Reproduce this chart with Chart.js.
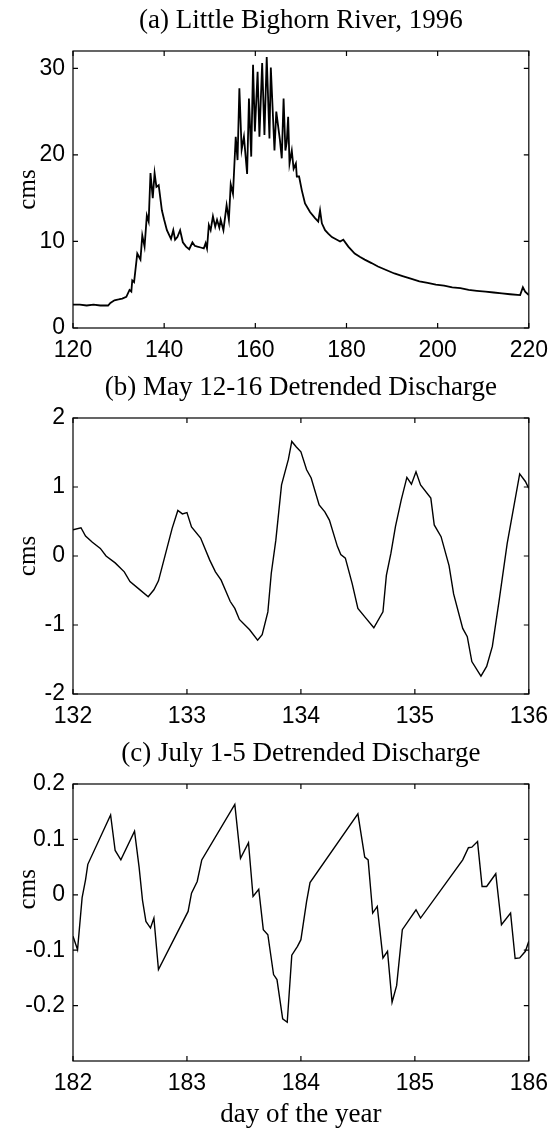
<!DOCTYPE html>
<html>
<head>
<meta charset="utf-8">
<script src="https://cdn.jsdelivr.net/npm/chart.js@4/dist/chart.umd.min.js"></script>
<style>
  html, body { margin: 0; padding: 0; background: #fff; }
  #page { position: relative; width: 557px; height: 1131px; }
  .panel { position: absolute; left: 0; width: 557px; }
</style>
</head>
<body>
<div id="page">
  <div class="panel" style="top:0;height:365px"><canvas id="chartA" width="557" height="365"></canvas></div>
  <div class="panel" style="top:365px;height:365px"><canvas id="chartB" width="557" height="365"></canvas></div>
  <div class="panel" style="top:730px;height:401px"><canvas id="chartC" width="557" height="401"></canvas></div>
</div>
<script>
// (a) Little Bighorn River, 1996 - discharge (cms) by day of year
const dayA = [120, 121.5, 123, 124.5, 126, 127.7, 128.2, 129.1, 130, 130.8, 131.7, 132.4, 132.8, 133.0, 133.4,
  134.1, 134.5, 134.8, 135.2, 135.7, 136.2, 136.6, 137.0, 137.5, 137.9, 138.3, 138.8, 139.5, 140.0, 140.6,
  141.5, 142.0, 142.4, 142.9, 143.5, 144.1, 144.8, 145.5, 146.2, 146.7, 147.3, 148.0, 148.7, 149.1, 149.4,
  149.8, 150.2, 150.7, 151.2, 151.6, 152.1, 152.4, 153.0, 153.7, 154.2, 154.6, 155.1, 155.7, 156.1, 156.5,
  157.0, 157.5, 158.2, 158.6, 159.1, 159.5, 159.9, 160.5, 160.9, 161.5, 162.0, 162.5, 163.1, 163.4, 164.2,
  164.6, 165.4, 165.8, 166.2, 166.6, 166.9, 167.2, 167.5, 168.0, 168.4, 168.9, 169.1, 169.6, 170.2, 170.9,
  172.0, 173.1, 173.8, 174.2, 174.6, 175.3, 176.0, 176.8, 177.9, 178.6, 179.3, 180.4, 181.8, 183.0, 184.0,
  185.5, 186.9, 188.7, 190.5, 192.3, 194.1, 196.0, 197.8, 199.6, 201.4, 203.2, 205.0, 206.8, 208.6, 210.5,
  212.3, 214.1, 215.9, 218.1, 218.7, 219.2, 220];
const flowA = [2.7, 2.7, 2.6, 2.7, 2.6, 2.6, 2.9, 3.2, 3.3, 3.4, 3.6, 4.4, 4.2, 5.5, 5.3,
  8.6, 8.2, 7.9, 10.7, 9.4, 13.0, 12.3, 17.9, 15.0, 17.9, 16.3, 16.5, 13.6, 12.5, 11.3,
  10.3, 11.3, 10.2, 10.5, 11.3, 9.9, 9.4, 9.1, 9.9, 9.5, 9.4, 9.3, 9.2, 9.8, 9.2,
  11.9, 11.3, 12.9, 11.7, 12.5, 11.6, 12.5, 11.3, 14.2, 12.5, 16.6, 15.5, 22.1, 19.4, 27.7,
  20.6, 22.1, 17.8, 26.5, 19.8, 30.4, 22.7, 29.6, 22.1, 30.6, 22.3, 31.3, 21.9, 30.1, 20.5,
  25.0, 21.7, 19.6, 26.5, 20.5, 21.5, 24.4, 19.0, 20.5, 18.4, 19.0, 17.5, 17.5, 15.9, 14.4,
  13.4, 12.7, 12.3, 13.6, 12.1, 11.3, 10.9, 10.5, 10.2, 10.0, 10.2, 9.4, 8.6, 8.2, 7.9,
  7.5, 7.1, 6.7, 6.3, 6.0, 5.7, 5.4, 5.2, 5.0, 4.9, 4.7, 4.6, 4.4, 4.3, 4.2,
  4.1, 4.0, 3.9, 3.8, 4.7, 4.2, 3.8];
const xTicksA = [120, 140, 160, 180, 200, 220];
const yTicksA = [0, 10, 20, 30];

// (b) May 12-16 detrended discharge
const dayB = [132.0, 132.07, 132.11, 132.17, 132.24, 132.29, 132.37, 132.45, 132.50, 132.58, 132.66, 132.71,
  132.75, 132.81, 132.87, 132.92, 132.96, 133.0, 133.04, 133.12, 133.2, 133.25, 133.30, 133.38, 133.42,
  133.46, 133.55, 133.62, 133.66, 133.71, 133.74, 133.78, 133.83, 133.89, 133.92, 133.96, 134.0, 134.05,
  134.09, 134.16, 134.21, 134.25, 134.32, 134.35, 134.39, 134.45, 134.50, 134.57, 134.64, 134.72, 134.75,
  134.79, 134.83, 134.88, 134.93, 134.97, 135.01, 135.05, 135.14, 135.17, 135.23, 135.30, 135.34, 135.42,
  135.46, 135.50, 135.58, 135.63, 135.68, 135.74, 135.81, 135.92, 135.97, 136.0];
const flowB = [0.38, 0.41, 0.29, 0.20, 0.11, 0.0, -0.10, -0.23, -0.37, -0.48, -0.59, -0.49,
  -0.36, 0.02, 0.40, 0.66, 0.61, 0.63, 0.42, 0.26, -0.06, -0.23, -0.35, -0.66, -0.76,
  -0.92, -1.07, -1.22, -1.14, -0.81, -0.25, 0.23, 1.03, 1.40, 1.66, 1.58, 1.51, 1.25,
  1.13, 0.74, 0.64, 0.52, 0.14, 0.02, -0.03, -0.40, -0.76, -0.90, -1.04, -0.81, -0.28,
  0.04, 0.43, 0.81, 1.14, 1.04, 1.22, 1.03, 0.84, 0.45, 0.28, -0.14, -0.55, -1.05,
  -1.17, -1.53, -1.74, -1.60, -1.31, -0.64, 0.18, 1.19, 1.08, 0.98];
const xTicksB = [132, 133, 134, 135, 136];
const yTicksB = [-2, -1, 0, 1, 2];

// (c) July 1-5 detrended discharge
const dayC = [182.0, 182.04, 182.08, 182.11, 182.13, 182.33, 182.37, 182.42, 182.54, 182.58, 182.61, 182.64,
  182.68, 182.71, 182.75, 183.01, 183.04, 183.09, 183.13, 183.42, 183.47, 183.54, 183.58, 183.63, 183.67,
  183.71, 183.76, 183.79, 183.84, 183.88, 183.92, 183.97, 184.0, 184.05, 184.08, 184.50, 184.56, 184.59,
  184.62, 184.63, 184.67, 184.72, 184.76, 184.80, 184.84, 184.89, 185.01, 185.05, 185.42, 185.47, 185.50,
  185.55, 185.59, 185.63, 185.71, 185.76, 185.84, 185.88, 185.92, 185.97, 186.0];
const flowC = [-0.075, -0.099, -0.005, 0.027, 0.055, 0.144, 0.08, 0.063, 0.115, 0.05, -0.01, -0.048,
  -0.06, -0.042, -0.135, -0.03, 0.003, 0.024, 0.063, 0.163, 0.066, 0.094, -0.003, 0.01, -0.063,
  -0.072, -0.144, -0.153, -0.224, -0.23, -0.109, -0.093, -0.081, -0.012, 0.022, 0.146, 0.068, 0.063,
  -0.009, -0.033, -0.021, -0.114, -0.102, -0.194, -0.164, -0.063, -0.027, -0.042, 0.063, 0.085, 0.086,
  0.096, 0.015, 0.015, 0.038, -0.054, -0.033, -0.115, -0.114, -0.102, -0.084];
const xTicksC = [182, 183, 184, 185, 186];
const yTicksC = [-0.2, -0.1, 0, 0.1, 0.2];

const serif = 'Liberation Serif, Times New Roman, serif';
const sans = 'Liberation Sans, Arial, Helvetica, sans-serif';

// closed box with short inward ticks on all four sides
const boxTicks = {
  id: 'boxTicks',
  afterDatasetsDraw(chart) {
    const {ctx, chartArea: a, scales: {x, y}} = chart;
    const len = 5;
    ctx.save();
    ctx.strokeStyle = '#000';
    ctx.lineWidth = 1.2;
    ctx.strokeRect(a.left, a.top, a.right - a.left, a.bottom - a.top);
    ctx.beginPath();
    x.ticks.forEach(t => {
      const px = x.getPixelForValue(t.value);
      ctx.moveTo(px, a.bottom); ctx.lineTo(px, a.bottom - len);
      ctx.moveTo(px, a.top); ctx.lineTo(px, a.top + len);
    });
    y.ticks.forEach(t => {
      const py = y.getPixelForValue(t.value);
      ctx.moveTo(a.left, py); ctx.lineTo(a.left + len, py);
      ctx.moveTo(a.right, py); ctx.lineTo(a.right - len, py);
    });
    ctx.stroke();
    ctx.restore();
  }
};

// rotated "cms" label, centred on a chosen value of the y scale (as in the figure)
const yLabel = {
  id: 'yLabel',
  afterDraw(chart, args, opts) {
    const {ctx, scales: {y}} = chart;
    ctx.save();
    ctx.translate(28, y.getPixelForValue(opts.at));
    ctx.rotate(-Math.PI / 2);
    ctx.fillStyle = '#000';
    ctx.font = '25px ' + serif;
    ctx.textAlign = 'center';
    ctx.textBaseline = 'middle';
    ctx.fillText(opts.text, 0, 0);
    ctx.restore();
  }
};

function makePanel(id, p) {
  const ctx = document.getElementById(id);
  return new Chart(ctx, {
    type: 'line',
    data: {
      datasets: [{
        data: p.xs.map((d, i) => ({x: d, y: p.ys[i]})),
        borderColor: '#000',
        borderWidth: p.lineWidth,
        pointRadius: 0,
        tension: 0
      }]
    },
    options: {
      responsive: false,
      animation: false,
      events: [],
      layout: { padding: { left: 0, right: 25, top: 0, bottom: 0 } },
      plugins: {
        legend: { display: false },
        tooltip: { enabled: false },
        title: {
          display: true,
          text: p.title,
          fullSize: false,
          color: '#000',
          font: { family: serif, size: 27, weight: 'normal', lineHeight: 1 },
          padding: { top: p.titleTop, bottom: p.titleBottom }
        },
        yLabel: { text: 'cms', at: p.labelAt }
      },
      scales: {
        x: {
          type: 'linear',
          min: p.xTicks[0],
          max: p.xTicks[p.xTicks.length - 1],
          afterBuildTicks: s => { s.ticks = p.xTicks.map(v => ({value: v})); },
          afterFit: s => { s.height = p.xAxisHeight; },
          grid: { display: false, drawTicks: false },
          border: { display: false },
          ticks: {
            color: '#000',
            padding: 9,
            maxRotation: 0,
            font: { family: sans, size: 23 },
            callback: v => String(v)
          },
          title: {
            display: !!p.xLabel,
            text: p.xLabel || '',
            color: '#000',
            font: { family: serif, size: 27, lineHeight: 1 },
            padding: { top: 0, bottom: 3 }
          }
        },
        y: {
          type: 'linear',
          min: p.yMin,
          max: p.yMax,
          afterBuildTicks: s => { s.ticks = p.yTicks.map(v => ({value: v})); },
          afterFit: s => { s.width = 73; },
          grid: { display: false, drawTicks: false },
          border: { display: false },
          ticks: {
            color: '#000',
            padding: 8,
            font: { family: sans, size: 23 },
            callback: v => String(+v.toFixed(1))
          }
        }
      }
    },
    plugins: [boxTicks, yLabel]
  });
}

makePanel('chartA', {
  title: '(a) Little Bighorn River, 1996',
  xs: dayA, ys: flowA, xTicks: xTicksA, yTicks: yTicksA,
  yMin: 0, yMax: 32, lineWidth: 1.8, labelAt: 16,
  titleTop: 7, titleBottom: 17, xAxisHeight: 37
});

makePanel('chartB', {
  title: '(b) May 12-16 Detrended Discharge',
  xs: dayB, ys: flowB, xTicks: xTicksB, yTicks: yTicksB,
  yMin: -2, yMax: 2, lineWidth: 1.4, labelAt: 0,
  titleTop: 9, titleBottom: 17, xAxisHeight: 36
});

makePanel('chartC', {
  title: '(c) July 1-5 Detrended Discharge',
  xs: dayC, ys: flowC, xTicks: xTicksC, yTicks: yTicksC,
  yMin: -0.3, yMax: 0.2, lineWidth: 1.4, labelAt: 0.01,
  titleTop: 10, titleBottom: 17, xAxisHeight: 70,
  xLabel: 'day of the year'
});
</script>
</body>
</html>
